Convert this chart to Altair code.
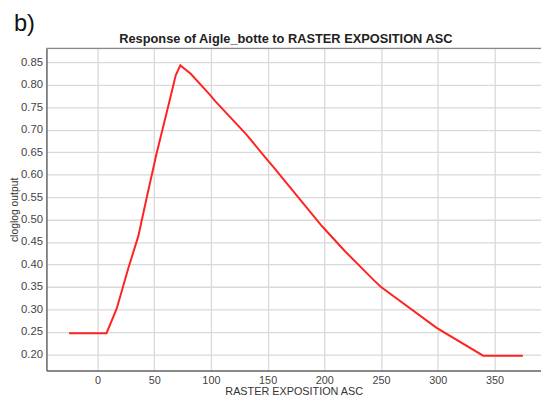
import altair as alt
import pandas as pd

# Values
x_vals = [-25, 8, 17, 27, 36, 43, 52, 62, 69, 73, 82, 99, 104, 131, 149, 155, 198, 218, 244, 250, 299, 340, 375]
y_vals = [0.247, 0.247, 0.302, 0.390, 0.463, 0.544, 0.646, 0.748, 0.821, 0.843, 0.825, 0.778, 0.763,
          0.690, 0.635, 0.617, 0.485, 0.430, 0.364, 0.350, 0.259, 0.197, 0.197]
x_ticks = [0, 50, 100, 150, 200, 250, 300, 350]
y_ticks = [0.20, 0.25, 0.30, 0.35, 0.40, 0.45, 0.50, 0.55, 0.60, 0.65, 0.70, 0.75, 0.80, 0.85]
texts = ["b)", "Response of Aigle_botte to RASTER EXPOSITION ASC"]

df = pd.DataFrame({"x": x_vals, "y": y_vals})

W, H = 502, 327
FONT = "Liberation Sans"

line = alt.Chart(df).mark_line(color="#ff2222", strokeWidth=2, interpolate="linear").encode(
    x=alt.X("x:Q", scale=alt.Scale(domain=[-45, 391], nice=False, zero=False),
            axis=alt.Axis(values=x_ticks, title="RASTER EXPOSITION ASC", ticks=False,
                          labelPadding=4, titlePadding=0, labelFontSize=11, titleFontSize=11,
                          labelColor="#444", titleColor="#333", labelFont=FONT, titleFont=FONT,
                          titleFontWeight="normal", domainColor="#666", domainWidth=1.5,
                          gridColor="#d9d9d9", gridWidth=1.3)),
    y=alt.Y("y:Q", scale=alt.Scale(domain=[0.164, 0.881], nice=False, zero=False),
            axis=alt.Axis(values=y_ticks, format=".2f", title="cloglog output", ticks=False,
                          labelPadding=4, titlePadding=1, labelFontSize=11.5, titleFontSize=10.5,
                          labelColor="#444", titleColor="#333", labelFont=FONT, titleFont=FONT,
                          titleFontWeight="normal", domainColor="#666", domainWidth=1.5,
                          gridColor="#d9d9d9", gridWidth=1.3)),
)

top_border = alt.Chart(pd.DataFrame({"k": [0]})).mark_rule(color="#888", strokeWidth=1.2).encode(
    x=alt.value(0), x2=alt.value(W), y=alt.value(0)
)

label = alt.Chart(pd.DataFrame({"label": [texts[0]]})).mark_text(
    fontSize=24, font=FONT, align="left", baseline="alphabetic", color="#111"
).encode(text="label:N", x=alt.value(-33), y=alt.value(-18))

title = alt.Chart(pd.DataFrame({"label": [texts[1]]})).mark_text(
    fontSize=13, font=FONT, fontWeight="bold", align="center", baseline="middle", color="#222"
).encode(text="label:N", x=alt.value(W / 2 - 8), y=alt.value(-9))

chart = alt.layer(line, top_border, label, title).properties(
    width=W, height=H,
    autosize=alt.AutoSizeParams(type="none"),
    padding={"left": 39, "top": 38, "right": 0, "bottom": 26},
).configure_view(stroke=None).configure(background="white")

chart.save("out.html", embed_options={"renderer": "svg", "actions": False})
